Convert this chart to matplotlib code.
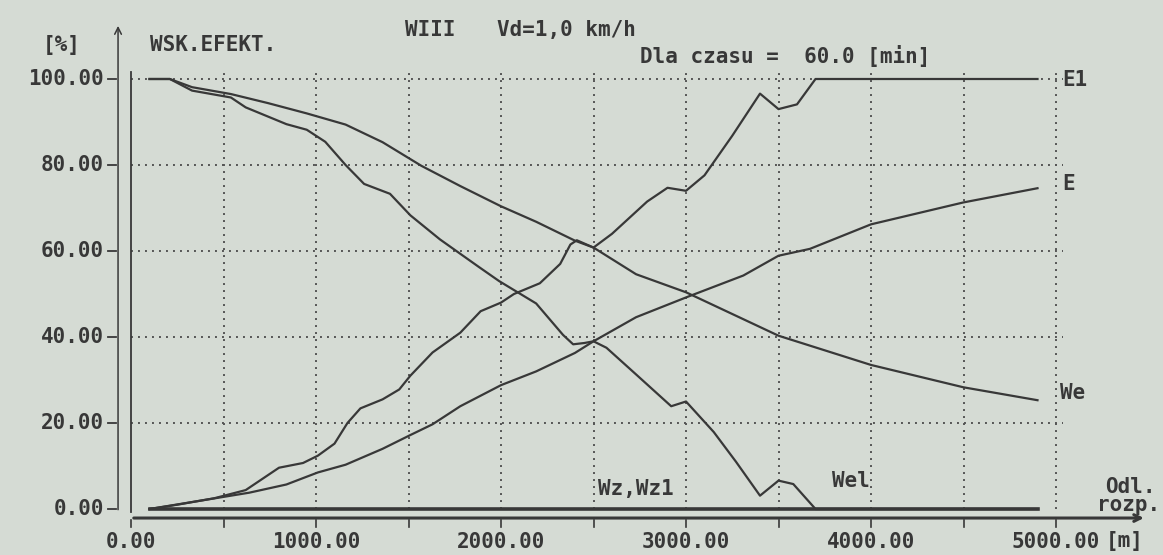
import matplotlib
matplotlib.use("Agg")
import matplotlib.pyplot as plt

# --- data (distance [m], percent) ---
e1_x = [100, 250, 450, 620, 800, 930, 1010, 1100, 1170, 1240, 1360, 1450, 1510, 1630,
        1780, 1890, 2000, 2070, 2210, 2320, 2375, 2410, 2500, 2600, 2790, 2900, 3000,
        3100, 3250, 3400, 3500, 3600, 3700, 4900]
e1_y = [0, 1, 2.5, 4.4, 9.6, 10.7, 12.4, 15.2, 20, 23.4, 25.5, 27.8, 31, 36.4,
        41, 46, 48, 50, 52.5, 57, 61.5, 62.5, 60.8, 64, 71.5, 74.7, 74,
        77.6, 86.8, 96.6, 93, 94.1, 100, 100]

we_x = [100, 210, 330, 540, 740, 950, 1160, 1360, 1570, 1780, 2000, 2190, 2400, 2500,
        2730, 3000, 3500, 4000, 4500, 4900]
we_y = [100, 100, 98.1, 96.5, 94.4, 92, 89.4, 85.3, 79.8, 75.1, 70.4, 66.8, 62.4, 60.8,
        54.6, 50.4, 40.3, 33.5, 28.3, 25.3]

wel_x = [100, 210, 330, 540, 620, 840, 950, 1050, 1160, 1260, 1400, 1510, 1670, 1880,
         1990, 2190, 2335, 2390, 2450, 2500, 2570, 2730, 2920, 3000, 3150, 3270, 3400,
         3500, 3580, 3700, 4900]
wel_y = [100, 100, 97.3, 95.7, 93.4, 89.5, 88.2, 85.4, 80, 75.6, 73.3, 68.3, 62.7, 56.3,
         53, 47.8, 40.5, 38.3, 38.6, 39, 37.5, 31.3, 23.9, 25, 17.9, 11, 3.1,
         6.6, 5.8, 0, 0]

e_x = [100, 370, 640, 840, 1010, 1160, 1360, 1510, 1630, 1780, 2000, 2190, 2400, 2500,
       2730, 3000, 3310, 3500, 3670, 4000, 4500, 4900]
e_y = [0, 1.9, 3.8, 5.7, 8.5, 10.3, 14, 17.2, 19.7, 23.9, 28.8, 32, 36.3, 39,
       44.6, 49.2, 54.3, 58.9, 60.5, 66.2, 71.3, 74.6]

wz_x = [100, 4900]
wz_y = [0, 0]

x_ticks = [0, 500, 1000, 1500, 2000, 2500, 3000, 3500, 4000, 4500, 5000]
x_labels = ["0.00", "1000.00", "2000.00", "3000.00", "4000.00", "5000.00"]
y_ticks = [0, 20, 40, 60, 80, 100]
y_labels = ["0.00", "20.00", "40.00", "60.00", "80.00", "100.00"]

BG = "#d5dbd4"
INK = "#383838"
FONT = dict(family="DejaVu Sans Mono", weight="bold", color=INK, fontsize=15)

W, H = 1163, 555
fig = plt.figure(figsize=(W / 100, H / 100), dpi=100, facecolor=BG)
# plot area: x 0..5000 -> px 131..1056, y 0..100 -> px 509..79
ax = fig.add_axes([131 / W, 1 - 509 / H, 925 / W, 430 / H])
ax.set_facecolor(BG)
ax.set_xlim(0, 5000)
ax.set_ylim(0, 100)
ax.axis("off")


def ftext(px, py, s, ha="left", va="center", **kw):
    style = dict(FONT)
    style.update(kw)
    fig.text(px / W, 1 - py / H, s, ha=ha, va=va, **style)


# dotted grid
dots = dict(color="#555555", lw=1.4, linestyle=(0, (1, 2.6)), clip_on=False)
for y in y_ticks[1:]:
    ax.plot([0, 5040], [y, y], **dots)
for x in x_ticks[1:]:
    ax.plot([x, x], [0, 101.6], **dots)

# frame: left border, y arrow, x arrow
ax.plot([0, 0], [-0.8, 101.6], color=INK, lw=1.3, clip_on=False)
ax.annotate("", xy=(-70, 113), xytext=(-70, -0.8),
            arrowprops=dict(arrowstyle="->", color=INK, lw=1.1, mutation_scale=12),
            annotation_clip=False)
ax.annotate("", xy=(5490, -2.1), xytext=(0, -2.1),
            arrowprops=dict(arrowstyle="->", color=INK, lw=2.2, mutation_scale=12),
            annotation_clip=False)

for y, lab in zip(y_ticks, y_labels):
    ax.plot([-125, -80], [y, y], color=INK, lw=1.3, clip_on=False)
    ax.text(-145, y, lab, ha="right", va="center", **FONT)
for x in x_ticks:
    ax.plot([x, x], [-2.6, -4.3], color=INK, lw=1.2, clip_on=False)
for x, lab in zip(x_ticks[::2], x_labels):
    ax.text(x, -7.6, lab, ha="center", va="center", **FONT)

# curves
line = dict(color=INK, lw=1.6, clip_on=False)
ax.plot(wz_x, wz_y, color=INK, lw=2.6, clip_on=False)
ax.plot(e1_x, e1_y, **line)
ax.plot(we_x, we_y, **line)
ax.plot(wel_x, wel_y, **line)
ax.plot(e_x, e_y, **line)

# texts
ftext(62, 45, "[%]", ha="center")
ftext(150, 45, "WSK.EFEKT.")
ftext(405, 30, "WIII")
ftext(497, 30, "Vd=1,0 km/h")
ftext(640, 56, "Dla czasu =  60.0 [min]")
ftext(1062, 80, "E1")
ftext(1062, 184, "E")
ftext(1060, 393, "We")
ftext(598, 489, "Wz,Wz1")
ftext(832, 481, "Wel")
ftext(1156, 487, "Odl.", ha="right")
ftext(1160, 505, "rozp.", ha="right")
ftext(1106, 541, "[m]")

fig.savefig("out.png", dpi=100, facecolor=BG)
